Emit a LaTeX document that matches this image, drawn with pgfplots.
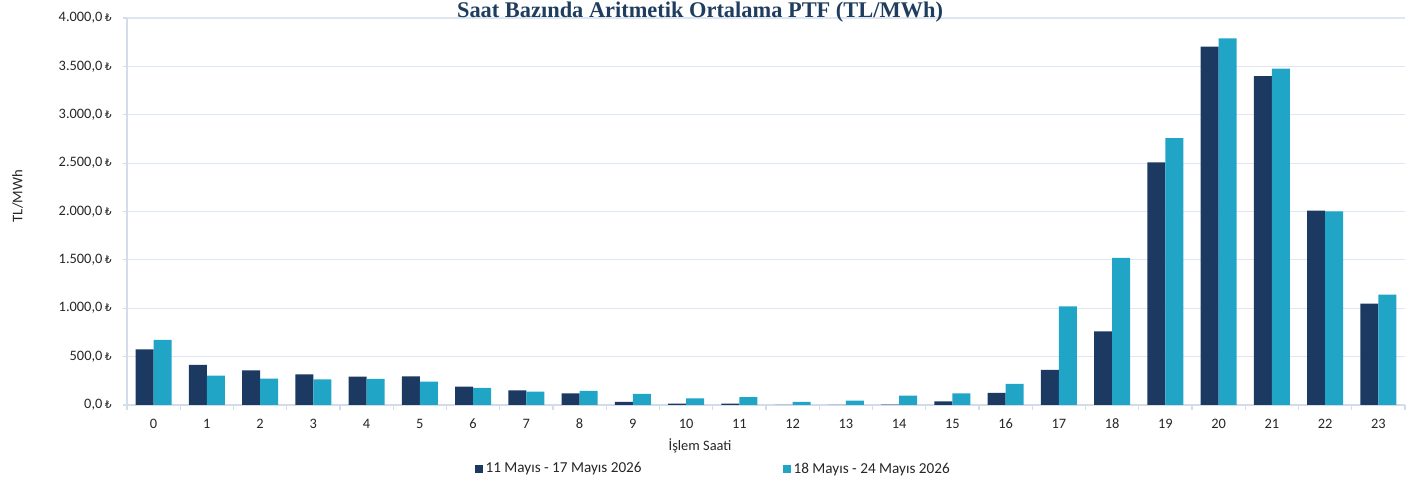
\documentclass[border=0pt]{standalone}
\usepackage{pgfplots}
\pgfplotsset{compat=1.18}
\usepackage{pgfplotstable}
\usepackage{fontspec}
\setmainfont{Carlito}
\newfontfamily\titlefont{Liberation Serif}
\newfontfamily\lira{DejaVu Sans}
\definecolor{navy}{HTML}{1B3961}
\definecolor{teal}{HTML}{21A5C7}
\definecolor{titleblue}{HTML}{1F3D5E}
\definecolor{gridc}{HTML}{DDE6F1}
\definecolor{axisc}{HTML}{D3DDEA}

% hour, 11-17 May, 18-24 May
\pgfplotstableread{
h a b
0 576 672
1 414 303
2 359 272
3 317 265
4 293 269
5 297 241
6 190 176
7 152 138
8 121 145
9 31 114
10 14 69
11 15 80
12 0 31
13 0 45
14 3 96
15 38 121
16 124 217
17 362 1018
18 762 1520
19 2508 2758
20 3705 3790
21 3400 3476
22 2009 2002
23 1048 1140
}\ptf

\def\px{0.75pt}

\begin{document}
\begin{tikzpicture}
\begin{axis}[
  width=958.5pt, height=290.25pt, scale only axis,
  xmin=-0.5, xmax=23.5, ymin=0, ymax=4000,
  ybar=0pt, bar width=13.5pt,
  xtick={0,...,23}, minor xtick={-0.5,0.5,...,23.5},
  xticklabel={\pgfmathparse{int(\tick)}\pgfmathresult},
  major x tick style={draw=none},
  minor x tick style={axisc, line width=0.8pt},
  ytick={0,500,...,4000},
  yticklabel={\pgfmathprintnumber[fixed, fixed zerofill, precision=1, use comma, 1000 sep={.}, assume math mode=true]{\tick}\,{\lira\fontsize{8}{9}\selectfont ₺}},
  tick align=outside, major tick length=3pt, minor tick length=3.5pt,
  y tick style={axisc, line width=0.8pt},
  axis x line*=bottom, axis y line*=left,
  axis line style={-, axisc, line width=1pt},
  ymajorgrids, major grid style={gridc, line width=0.8pt},
  tick label style={font=\fontsize{10.8}{12}\selectfont, text=black!85},
  xticklabel style={yshift=-4pt},
  yticklabel style={xshift=-5pt},
  xlabel={İşlem Saati},
  xlabel style={at={(rel axis cs:0.4484,0)}, anchor=center, yshift=-31pt, font=\fontsize{10.8}{12}\selectfont, text=black!85},
  ylabel={TL/MWh},
  ylabel style={at={(rel axis cs:0,0.54)}, anchor=center, yshift=82pt, font=\fontsize{11}{13}\selectfont, text=black!85},
  title={Saat Bazında Aritmetik Ortalama PTF (TL/MWh)},
  title style={at={(rel axis cs:0.4484,0.997)}, anchor=base, yshift=-4.5pt, font=\titlefont\bfseries\fontsize{16.8}{18}\selectfont, text=titleblue, inner sep=0pt},
  legend columns=2,
  legend style={at={(rel axis cs:0.272,-0.165)}, anchor=west, draw=none, fill=none,
    font=\fontsize{11.4}{13}\selectfont, text=black!85, inner sep=0pt,
    /tikz/every even column/.append style={column sep=104pt}},
  legend cell align=left,
]
\addplot[fill=navy, draw=none, legend image code/.code={\fill[navy] (0pt,-3pt) rectangle (6pt,3pt);}] table[x=h, y=a] {\ptf};
\addplot[fill=teal, draw=none, legend image code/.code={\fill[teal] (0pt,-3pt) rectangle (6pt,3pt);}] table[x=h, y=b] {\ptf};
\legend{11 Mayıs - 17 Mayıs 2026, 18 Mayıs - 24 Mayıs 2026}
\coordinate (bl) at (rel axis cs:0,0);
\coordinate (tr) at (rel axis cs:1,1);
\end{axis}
\pgfresetboundingbox
\path[use as bounding box] ([xshift=-127*\px, yshift=-81*\px]bl) rectangle ([xshift=11*\px, yshift=18*\px]tr);
\end{tikzpicture}
\end{document}
